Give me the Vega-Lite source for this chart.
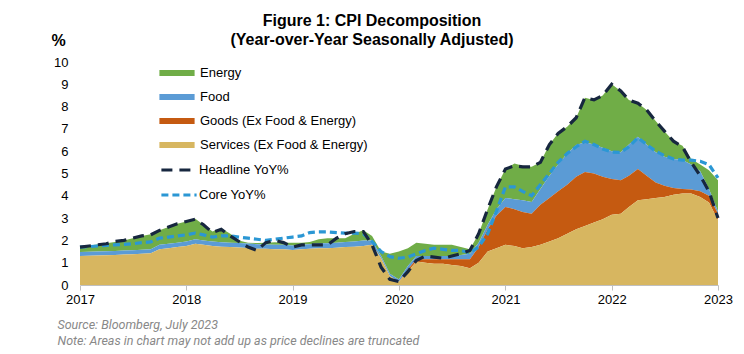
{
  "$schema": "https://vega.github.io/schema/vega-lite/v6.json",
  "width": 638,
  "height": 223,
  "autosize": {"type": "none"},
  "padding": {"left": 80, "top": 62, "right": 26, "bottom": 69},
  "background": "white",
  "config": {
    "font": "Liberation Sans",
    "view": {"stroke": null},
    "axis": {"labelOverlap": false}
  },
  "title": {
    "text": ["Figure 1: CPI Decomposition", "(Year-over-Year Seasonally Adjusted)"],
    "fontSize": 16,
    "fontWeight": "bold",
    "font": "Liberation Sans",
    "color": "#000000",
    "anchor": "middle",
    "frame": "group",
    "dx": -27,
    "lineHeight": 19,
    "offset": -16
  },
  "data": {
    "values": [
      {"date": "2017-01-01", "services": 1.30, "goods": 0, "food": 0.18, "energy": 0.24, "headline": 1.70, "core": 1.70},
      {"date": "2017-02-01", "services": 1.31, "goods": 0, "food": 0.18, "energy": 0.28, "headline": 1.75, "core": 1.72},
      {"date": "2017-03-01", "services": 1.32, "goods": 0, "food": 0.18, "energy": 0.32, "headline": 1.80, "core": 1.75},
      {"date": "2017-04-01", "services": 1.33, "goods": 0, "food": 0.18, "energy": 0.36, "headline": 1.85, "core": 1.78},
      {"date": "2017-05-01", "services": 1.35, "goods": 0, "food": 0.18, "energy": 0.40, "headline": 1.95, "core": 1.80},
      {"date": "2017-06-01", "services": 1.37, "goods": 0, "food": 0.18, "energy": 0.45, "headline": 2.00, "core": 1.82},
      {"date": "2017-07-01", "services": 1.38, "goods": 0, "food": 0.18, "energy": 0.54, "headline": 2.10, "core": 1.85},
      {"date": "2017-08-01", "services": 1.40, "goods": 0, "food": 0.18, "energy": 0.62, "headline": 2.20, "core": 1.90},
      {"date": "2017-09-01", "services": 1.42, "goods": 0, "food": 0.18, "energy": 0.68, "headline": 2.25, "core": 1.93},
      {"date": "2017-10-01", "services": 1.60, "goods": 0, "food": 0.20, "energy": 0.65, "headline": 2.45, "core": 2.10},
      {"date": "2017-11-01", "services": 1.65, "goods": 0, "food": 0.20, "energy": 0.75, "headline": 2.60, "core": 2.15},
      {"date": "2017-12-01", "services": 1.70, "goods": 0, "food": 0.20, "energy": 0.85, "headline": 2.75, "core": 2.20},
      {"date": "2018-01-01", "services": 1.75, "goods": 0, "food": 0.20, "energy": 0.90, "headline": 2.85, "core": 2.25},
      {"date": "2018-02-01", "services": 1.85, "goods": 0, "food": 0.20, "energy": 0.92, "headline": 2.95, "core": 2.33},
      {"date": "2018-03-01", "services": 1.80, "goods": 0, "food": 0.20, "energy": 0.70, "headline": 2.70, "core": 2.25},
      {"date": "2018-04-01", "services": 1.75, "goods": 0, "food": 0.20, "energy": 0.45, "headline": 2.35, "core": 2.15},
      {"date": "2018-05-01", "services": 1.72, "goods": 0, "food": 0.20, "energy": 0.63, "headline": 2.50, "core": 2.20},
      {"date": "2018-06-01", "services": 1.70, "goods": 0, "food": 0.20, "energy": 0.40, "headline": 2.20, "core": 2.20},
      {"date": "2018-07-01", "services": 1.68, "goods": 0, "food": 0.20, "energy": 0.12, "headline": 1.95, "core": 2.15},
      {"date": "2018-08-01", "services": 1.66, "goods": 0, "food": 0.20, "energy": 0.04, "headline": 1.70, "core": 2.10},
      {"date": "2018-09-01", "services": 1.63, "goods": 0, "food": 0.20, "energy": 0.05, "headline": 1.55, "core": 2.05},
      {"date": "2018-10-01", "services": 1.62, "goods": 0, "food": 0.20, "energy": 0.08, "headline": 1.90, "core": 2.00},
      {"date": "2018-11-01", "services": 1.60, "goods": 0, "food": 0.20, "energy": 0.12, "headline": 2.00, "core": 2.05},
      {"date": "2018-12-01", "services": 1.60, "goods": 0, "food": 0.20, "energy": 0.10, "headline": 1.90, "core": 2.10},
      {"date": "2019-01-01", "services": 1.57, "goods": 0, "food": 0.20, "energy": 0.13, "headline": 1.70, "core": 2.15},
      {"date": "2019-02-01", "services": 1.60, "goods": 0, "food": 0.20, "energy": 0.10, "headline": 1.80, "core": 2.20},
      {"date": "2019-03-01", "services": 1.63, "goods": 0, "food": 0.20, "energy": 0.10, "headline": 1.80, "core": 2.35},
      {"date": "2019-04-01", "services": 1.65, "goods": 0, "food": 0.22, "energy": 0.18, "headline": 1.80, "core": 2.38},
      {"date": "2019-05-01", "services": 1.65, "goods": 0, "food": 0.22, "energy": 0.23, "headline": 1.80, "core": 2.38},
      {"date": "2019-06-01", "services": 1.67, "goods": 0, "food": 0.22, "energy": 0.21, "headline": 2.10, "core": 2.35},
      {"date": "2019-07-01", "services": 1.70, "goods": 0, "food": 0.23, "energy": 0.17, "headline": 2.30, "core": 2.33},
      {"date": "2019-08-01", "services": 1.72, "goods": 0, "food": 0.23, "energy": 0.35, "headline": 2.40, "core": 2.33},
      {"date": "2019-09-01", "services": 1.75, "goods": 0, "food": 0.25, "energy": 0.45, "headline": 2.40, "core": 2.30},
      {"date": "2019-10-01", "services": 1.80, "goods": 0, "food": 0.20, "energy": 0.20, "headline": 1.80, "core": 1.95},
      {"date": "2019-11-01", "services": 1.20, "goods": 0, "food": 0.10, "energy": 0.20, "headline": 0.80, "core": 1.50},
      {"date": "2019-12-01", "services": 0.40, "goods": 0, "food": 0.10, "energy": 0.90, "headline": 0.25, "core": 1.27},
      {"date": "2020-01-01", "services": 0.15, "goods": 0, "food": 0.10, "energy": 1.25, "headline": 0.15, "core": 1.20},
      {"date": "2020-02-01", "services": 0.60, "goods": 0.10, "food": 0.15, "energy": 0.80, "headline": 0.60, "core": 1.25},
      {"date": "2020-03-01", "services": 1.05, "goods": 0.10, "food": 0.15, "energy": 0.60, "headline": 1.10, "core": 1.40},
      {"date": "2020-04-01", "services": 1.00, "goods": 0.15, "food": 0.15, "energy": 0.55, "headline": 1.30, "core": 1.55},
      {"date": "2020-05-01", "services": 0.95, "goods": 0.20, "food": 0.15, "energy": 0.50, "headline": 1.25, "core": 1.65},
      {"date": "2020-06-01", "services": 0.95, "goods": 0.20, "food": 0.15, "energy": 0.50, "headline": 1.20, "core": 1.60},
      {"date": "2020-07-01", "services": 0.90, "goods": 0.25, "food": 0.15, "energy": 0.50, "headline": 1.30, "core": 1.55},
      {"date": "2020-08-01", "services": 0.85, "goods": 0.30, "food": 0.20, "energy": 0.35, "headline": 1.40, "core": 1.55},
      {"date": "2020-09-01", "services": 0.75, "goods": 0.40, "food": 0.25, "energy": 0.20, "headline": 1.55, "core": 1.45},
      {"date": "2020-10-01", "services": 1.00, "goods": 0.70, "food": 0.20, "energy": 0.40, "headline": 2.30, "core": 1.70},
      {"date": "2020-11-01", "services": 1.50, "goods": 1.00, "food": 0.20, "energy": 0.70, "headline": 3.40, "core": 2.30},
      {"date": "2020-12-01", "services": 1.65, "goods": 1.45, "food": 0.30, "energy": 1.00, "headline": 4.40, "core": 3.30},
      {"date": "2021-01-01", "services": 1.80, "goods": 1.70, "food": 0.40, "energy": 1.30, "headline": 5.20, "core": 4.40},
      {"date": "2021-02-01", "services": 1.75, "goods": 1.65, "food": 0.45, "energy": 1.60, "headline": 5.35, "core": 4.40},
      {"date": "2021-03-01", "services": 1.65, "goods": 1.62, "food": 0.53, "energy": 1.55, "headline": 5.30, "core": 4.20},
      {"date": "2021-04-01", "services": 1.70, "goods": 1.50, "food": 0.52, "energy": 1.58, "headline": 5.30, "core": 4.00},
      {"date": "2021-05-01", "services": 1.80, "goods": 1.80, "food": 0.70, "energy": 1.20, "headline": 5.50, "core": 4.50},
      {"date": "2021-06-01", "services": 1.95, "goods": 1.95, "food": 1.00, "energy": 1.40, "headline": 6.30, "core": 5.00},
      {"date": "2021-07-01", "services": 2.10, "goods": 2.10, "food": 1.20, "energy": 1.40, "headline": 6.80, "core": 5.50},
      {"date": "2021-08-01", "services": 2.30, "goods": 2.20, "food": 1.40, "energy": 1.20, "headline": 7.10, "core": 5.90},
      {"date": "2021-09-01", "services": 2.50, "goods": 2.35, "food": 1.43, "energy": 1.22, "headline": 7.50, "core": 6.20},
      {"date": "2021-10-01", "services": 2.65, "goods": 2.42, "food": 1.33, "energy": 2.00, "headline": 8.40, "core": 6.45},
      {"date": "2021-11-01", "services": 2.80, "goods": 2.20, "food": 1.30, "energy": 2.00, "headline": 8.30, "core": 6.30},
      {"date": "2021-12-01", "services": 2.95, "goods": 1.90, "food": 1.30, "energy": 2.35, "headline": 8.50, "core": 6.10},
      {"date": "2022-01-01", "services": 3.15, "goods": 1.60, "food": 1.25, "energy": 3.00, "headline": 9.00, "core": 5.96},
      {"date": "2022-02-01", "services": 3.20, "goods": 1.50, "food": 1.25, "energy": 2.75, "headline": 8.70, "core": 5.95},
      {"date": "2022-03-01", "services": 3.50, "goods": 1.40, "food": 1.40, "energy": 2.00, "headline": 8.30, "core": 6.20},
      {"date": "2022-04-01", "services": 3.80, "goods": 1.40, "food": 1.45, "energy": 1.50, "headline": 8.15, "core": 6.60},
      {"date": "2022-05-01", "services": 3.85, "goods": 1.05, "food": 1.40, "energy": 1.55, "headline": 7.85, "core": 6.30},
      {"date": "2022-06-01", "services": 3.90, "goods": 0.70, "food": 1.35, "energy": 1.40, "headline": 7.35, "core": 6.00},
      {"date": "2022-07-01", "services": 3.95, "goods": 0.50, "food": 1.30, "energy": 1.15, "headline": 6.90, "core": 5.80},
      {"date": "2022-08-01", "services": 4.05, "goods": 0.30, "food": 1.30, "energy": 0.80, "headline": 6.45, "core": 5.65},
      {"date": "2022-09-01", "services": 4.10, "goods": 0.20, "food": 1.30, "energy": 0.65, "headline": 6.20, "core": 5.60},
      {"date": "2022-10-01", "services": 4.10, "goods": 0.18, "food": 1.12, "energy": 0.25, "headline": 5.50, "core": 5.60},
      {"date": "2022-11-01", "services": 3.95, "goods": 0.25, "food": 0.90, "energy": 0.30, "headline": 4.90, "core": 5.55},
      {"date": "2022-12-01", "services": 3.70, "goods": 0.30, "food": 0.30, "energy": 0.85, "headline": 4.20, "core": 5.40},
      {"date": "2023-01-01", "services": 2.90, "goods": 0.30, "food": 0.10, "energy": 1.40, "headline": 3.00, "core": 4.80}
    ]
  },
  "encoding": {
    "x": {
      "field": "date",
      "type": "temporal",
      "scale": {"type": "utc", "domain": ["2017-01-01", "2023-01-01"]},
      "axis": {
        "format": "%Y",
        "tickCount": {"interval": "year", "step": 1},
        "labelFontSize": 13,
        "labelColor": "#000000",
        "labelFlush": false,
        "labelPadding": 3,
        "domainColor": "#bfbfbf",
        "tickColor": "#bfbfbf",
        "tickSize": 5,
        "grid": false,
        "title": ["Source: Bloomberg, July 2023", "Note: Areas in chart may not add up as price declines are truncated"],
        "titleFont": "Roboto",
        "titleFontStyle": "italic",
        "titleFontWeight": "normal",
        "titleFontSize": 12.5,
        "titleColor": "#888888",
        "titleAnchor": "start",
        "titleAlign": "left",
        "titleBaseline": "middle",
        "titleX": -23,
        "titleY": 39,
        "titleLineHeight": 16
      }
    },
    "y": {
      "field": "value",
      "type": "quantitative",
      "scale": {"domain": [0, 10], "nice": false, "zero": true},
      "axis": {
        "tickCount": 11,
        "tickMinStep": 1,
        "labelOverlap": false,
        "labelSeparation": 0,
        "labelFontSize": 13,
        "labelColor": "#000000",
        "labelPadding": 12,
        "domain": false,
        "ticks": false,
        "grid": false,
        "title": "%",
        "titleAngle": 0,
        "titleAlign": "center",
        "titleBaseline": "middle",
        "titleX": -22,
        "titleY": -22,
        "titleFontSize": 16,
        "titleFontWeight": "bold",
        "titleColor": "#000000"
      }
    }
  },
  "layer": [
    {
      "transform": [{"fold": ["energy", "food", "goods", "services"], "as": ["series", "value"]}],
      "mark": {"type": "area", "interpolate": "linear", "opacity": 1},
      "encoding": {
        "y": {
          "field": "value",
          "type": "quantitative",
          "stack": "zero"
        },
        "fill": {
          "field": "series",
          "type": "nominal",
          "scale": {
            "domain": ["energy", "food", "goods", "services"],
            "range": ["#70AD47", "#5B9BD5", "#C55A11", "#D7B660"]
          },
          "legend": {
            "title": null,
            "orient": "none",
            "legendX": 86,
            "legendY": 0,
            "symbolType": "M-1.6,-0.28H1.6V0.28H-1.6Z",
            "symbolSize": 484,
            "symbolStrokeWidth": 0,
            "symbolOpacity": 1,
            "labelFontSize": 13,
            "labelColor": "#000000",
            "labelOffset": 12,
            "labelLimit": 400,
            "rowPadding": 6,
            "labelExpr": "datum.label == 'energy' ? 'Energy' : datum.label == 'food' ? 'Food' : datum.label == 'goods' ? 'Goods (Ex Food & Energy)' : 'Services (Ex Food & Energy)'"
          }
        },
        "order": {"field": "series", "sort": "descending"}
      }
    },
    {
      "transform": [{"fold": ["core", "headline"], "as": ["series", "value"]}],
      "mark": {"type": "line", "strokeWidth": 3.2, "interpolate": "linear"},
      "encoding": {
        "stroke": {
          "field": "series",
          "type": "nominal",
          "scale": {"domain": ["headline", "core"], "range": ["#17273F", "#2B97D4"]},
          "legend": {
            "title": null,
            "orient": "none",
            "legendX": 86,
            "legendY": 95,
            "symbolType": "M-1.6,0H1.6",
            "symbolSize": 484,
            "symbolStrokeWidth": 3.2,
            "labelFontSize": 13,
            "labelColor": "#000000",
            "labelOffset": 7,
            "labelLimit": 400,
            "rowPadding": 5,
            "labelExpr": "datum.label == 'headline' ? 'Headline YoY%' : 'Core YoY%'"
          }
        },
        "strokeDash": {
          "field": "series",
          "type": "nominal",
          "scale": {"domain": ["headline", "core"], "range": [[11, 7], [7, 4]]},
          "legend": {
            "title": null,
            "orient": "none",
            "legendX": 86,
            "legendY": 95,
            "symbolType": "M-1.6,0H1.6",
            "symbolSize": 484,
            "symbolStrokeWidth": 3.2,
            "labelFontSize": 13,
            "labelColor": "#000000",
            "labelOffset": 7,
            "labelLimit": 400,
            "rowPadding": 5,
            "labelExpr": "datum.label == 'headline' ? 'Headline YoY%' : 'Core YoY%'"
          }
        }
      }
    }
  ]
}
